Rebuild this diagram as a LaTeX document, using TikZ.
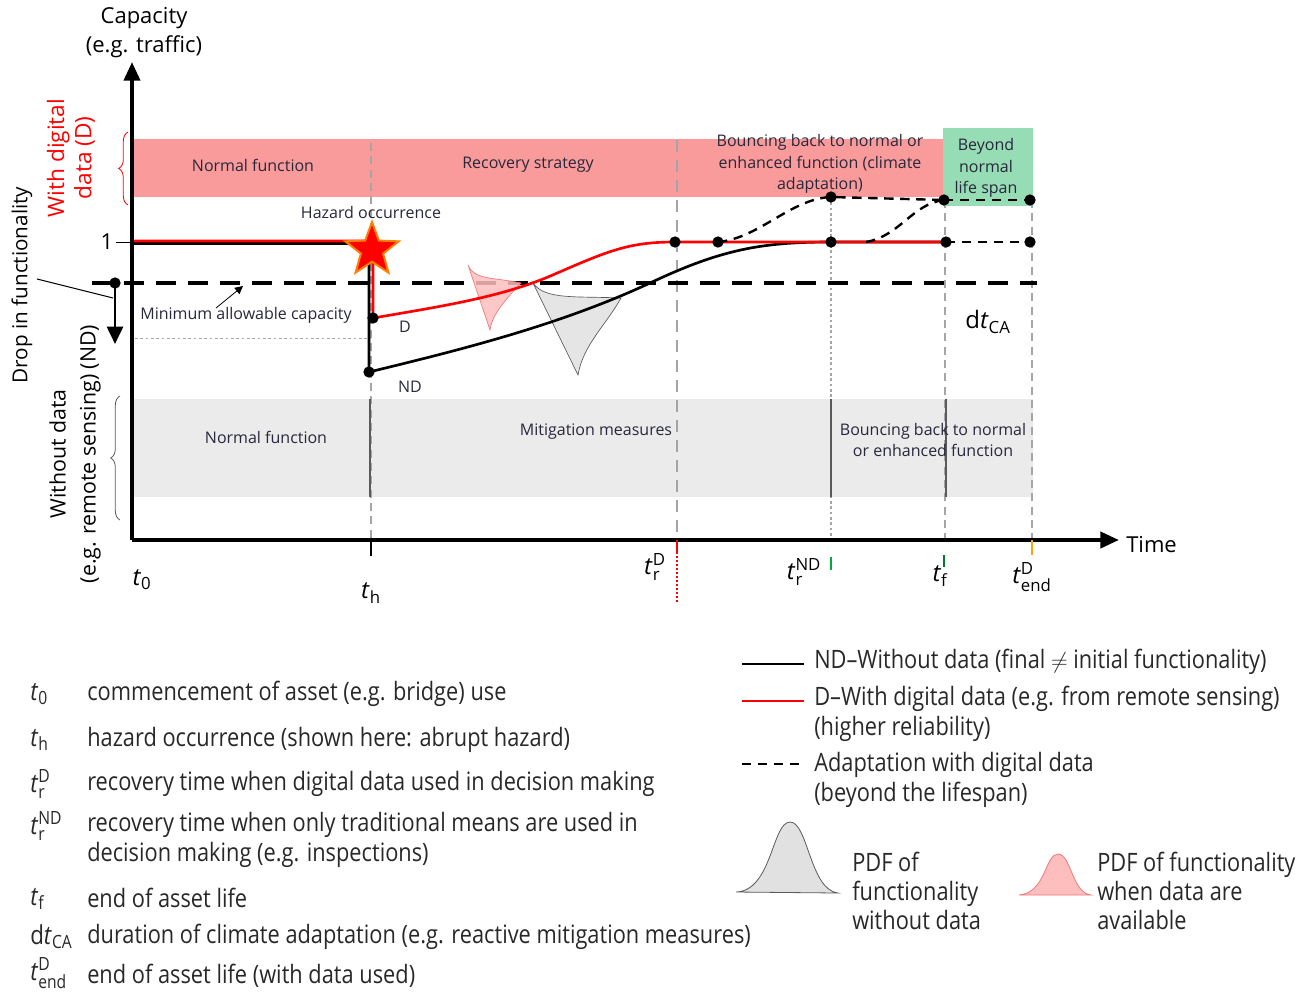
\documentclass[tikz,border=0pt]{standalone}
\usepackage{fontspec}
\usepackage{amsmath}
\setmainfont{Open Sans}
\newfontfamily\condf{Open Sans}[FakeStretch=0.86]
\usetikzlibrary{shapes.geometric,arrows.meta,decorations.pathreplacing,calc}
\definecolor{bandred}{RGB}{250,155,155}
\definecolor{bandgreen}{RGB}{150,220,180}
\definecolor{bandgray}{RGB}{235,235,235}
\definecolor{txt}{RGB}{40,40,60}
\definecolor{legtxt}{RGB}{40,40,40}
\definecolor{pdfred}{RGB}{255,190,190}
\definecolor{pdfredline}{RGB}{240,120,120}
\definecolor{pdfgray}{RGB}{225,225,225}
\definecolor{vgray}{RGB}{165,165,165}
\definecolor{dgray}{RGB}{90,90,90}
\definecolor{tgreen}{RGB}{0,170,60}
\definecolor{torange}{RGB}{255,165,0}
\newcommand\tsym[3]{\textit{t}$^{\text{#3}}_{\text{#2}}$}
\tikzset{
  bandlbl/.style={font=\fontsize{12}{16}\selectfont, text=txt, align=center, inner sep=0pt},
  axlbl/.style={font=\fontsize{16.5}{21.75}\selectfont, text=black, align=center, inner sep=0pt},
  ticklbl/.style={font=\fontsize{18}{20}\selectfont, text=black, inner sep=0pt},
  legsym/.style={font=\condf\fontsize{19.5}{22}\selectfont, text=legtxt, anchor=west, inner sep=0pt},
  legtext/.style={font=\condf\fontsize{19}{22.5}\selectfont, text=legtxt, anchor=west, align=left, inner sep=0pt},
  rlegtext/.style={font=\condf\fontsize{19}{22}\selectfont, text=legtxt, anchor=west, align=left, inner sep=0pt},
  dot/.style={circle, fill=black, inner sep=0pt, minimum size=8.5pt},
  vdash/.style={vgray, line width=1.2pt, dash pattern=on 6pt off 4pt},
  vdot/.style={vgray, line width=0.9pt, dash pattern=on 2pt off 2pt},
  bandsep/.style={dgray, line width=0.9pt},
  ndcurve/.style={black, line width=2pt},
  dcurve/.style={red, line width=2pt},
  adapt/.style={black, line width=1.8pt, dash pattern=on 7pt off 5pt},
  minline/.style={black, line width=3pt, dash pattern=on 15pt off 9pt},
  axis/.style={black, line width=3pt, -{Triangle[length=14pt,width=12pt]}},
}
\begin{document}
\begin{tikzpicture}[x=0.75pt,y=-0.75pt]
\useasboundingbox (0,0) rectangle (1308,993);
% bands
\fill[bandred] (132,139) rectangle (943,197);
\fill[bandgreen] (943,128) rectangle (1033,206);
\fill[bandgray] (132,399) rectangle (1033,497);
% vertical guide lines
\draw[vdash] (371,143) -- (371,540);
\draw[vgray, line width=1.8pt, dash pattern=on 9pt off 6pt] (677,140) -- (677,540);
\draw[vdot] (831,197) -- (831,540);
\draw[vdash] (945,200) -- (945,540);
\draw[vdash] (1032,200) -- (1032,540);
\draw[red, line width=0.8pt, dash pattern=on 1.5pt off 1.5pt] (677,540) -- (677,603);
% band separators
\draw[bandsep] (370,399) -- (370,497);
\draw[bandsep] (831,399) -- (831,497);
\draw[bandsep] (946,399) -- (946,497);
% band labels
\node[bandlbl] (nf1) at (253,165) {Normal function};
\node[bandlbl] (rs) at (528,165) {Recovery strategy};
\node[bandlbl] (bb1) at (820,164) {Bouncing back to normal or\\enhanced function (climate\\adaptation)};
\node[bandlbl] (bey) at (986,168) {Beyond\\normal\\life span};
\node[bandlbl] (nf2) at (266,437) {Normal function};
\node[bandlbl] (mm) at (596,432) {Mitigation measures};
\node[bandlbl] (bb2) at (933,440) {Bouncing back to normal\\or enhanced function};
\node[bandlbl] (hz) at (371,212) {Hazard occurrence};
% min allowable capacity
\draw[minline] (92,283) -- (1037,283);
\draw[vgray, line width=0.6pt, dash pattern=on 2pt off 2pt] (135,338) -- (370,338);
\node[bandlbl, font=\fontsize{12}{14}\selectfont] (mac) at (246,315) {Minimum allowable capacity};
\coordinate (macA) at (216,308);
\coordinate (macB) at (243,286);
\draw[black, line width=0.6pt, -{Triangle[length=6pt,width=6pt]}] (macA) -- (macB);
% PDFs in chart
\filldraw[fill=pdfred, draw=pdfredline, line width=0.5pt, fill opacity=0.85] (468,265) .. controls (474,280) and (492,277) .. (521,283) .. controls (505,300) and (492,315) .. (490,330) -- cycle;
\filldraw[fill=pdfgray, draw=dgray, line width=0.5pt, fill opacity=0.85] (533,283) .. controls (545,300) and (575,296) .. (621,298) .. controls (606,325) and (583,345) .. (578,375) -- cycle;
% curves
\coordinate (ND0) at (369,372);
\coordinate (D0) at (373,318);
\coordinate (Dr) at (675,242);
\coordinate (A1) at (718,242);
\coordinate (NDr) at (831,242);
\coordinate (F1) at (946,242);
\coordinate (E1) at (1030,242);
\coordinate (U1) at (831,197);
\coordinate (U2) at (944,200);
\coordinate (U3) at (1030,200);
\coordinate (S2) at (866,242);
\draw[ndcurve] (132,243.5) -- (369,243.5) -- (ND0) .. controls (460,350) and (560,325) .. (650,283) .. controls (720,250) and (760,242) .. (NDr) -- (F1);
\draw[dcurve] (132,241) -- (373,241) -- (D0) .. controls (450,305) and (505,296) .. (555,274) .. controls (610,250) and (630,242) .. (Dr) -- (F1);
\draw[adapt] (A1) .. controls (760,238) and (790,199) .. (U1) -- (U2);
\draw[adapt] (S2) .. controls (900,236) and (912,204) .. (U2);
\draw[adapt] (U2) -- (U3);
\draw[adapt] (F1) -- (E1);
\foreach \p in {ND0,D0,Dr,A1,NDr,F1,E1,U1,U2,U3} \node[dot] at (\p) {};
\node[bandlbl, font=\fontsize{12}{14}\selectfont] (lD) at (405,327) {D};
\node[bandlbl, font=\fontsize{12}{14}\selectfont] (lND) at (410,387) {ND};
\node[ticklbl] (dtca) at (988,322) {d\textit{t}$_{\text{CA}}$};
% star
\node[star, star points=5, star point ratio=2.4, fill=red, draw=orange, line width=1.5pt, minimum size=42pt, inner sep=0pt] (star) at (372,250) {};
% axes
\draw[axis] (132,540) -- (132,62);
\draw[axis] (132,540) -- (1119,540);
\node[axlbl] (cap) at (144,32.5) {Capacity\\(e.g. traffic)};
\node[axlbl, anchor=west] (time) at (1126,545) {Time};
\draw[black, line width=0.7pt] (116,242) -- (132,242);
\node[axlbl] (one) at (107,242) {1};
% drop in functionality
\coordinate (dropA) at (115,283);
\coordinate (dropB) at (115,344);
\draw[black, line width=2pt, -{Triangle[length=13pt,width=12pt]}] (dropA) -- (dropB);
\node[dot] at (dropA) {};
\coordinate (dropL) at (37,279);
\draw[black, line width=0.8pt] (dropL) -- (113,298);
\node[axlbl, rotate=90, font=\fontsize{15.5}{18}\selectfont] (drop) at (22,285) {Drop in functionality};
% side labels and braces
\node[axlbl, rotate=90, text=red, font=\fontsize{17}{20.5}\selectfont] (wd) at (71,158) {With digital\\data (D)};
\draw[red, line width=0.6pt, decorate, decoration={brace, amplitude=7pt}] (128,205) -- (128,132);
\node[axlbl, rotate=90, font=\fontsize{16}{22.5}\selectfont] (wo) at (75,454) {Without data\\(e.g. remote sensing) (ND)};
\draw[dgray, line width=0.6pt, decorate, decoration={brace, amplitude=7pt}] (120,520) -- (120,396);
% ticks
\draw[black, line width=1.2pt] (371,540) -- (371,556);
\draw[red, line width=1.2pt] (677,540) -- (677,552);
\draw[tgreen, line width=1.5pt] (831,557) -- (831,570);
\draw[tgreen!70!black, line width=1.5pt] (944,555) -- (944,567);
\draw[torange, line width=1.5pt] (1032,540) -- (1032,555);
\node[ticklbl] (t0) at (142,580) {\textit{t}$_{\text{0}}$};
\node[ticklbl] (th) at (371,593) {\textit{t}$_{\text{h}}$};
\node[ticklbl] (trD) at (655,567) {\tsym{t}{r}{D}};
\node[ticklbl] (trND) at (804,572) {\tsym{t}{r}{ND}};
\node[ticklbl] (tf) at (940,576) {\textit{t}$_{\text{f}}$};
\node[ticklbl] (tend) at (1032,577) {\tsym{t}{end}{D}};
% left legend
\node[legsym] (s1) at (30,694) {\textit{t}$_{\text{0}}$};
\node[legsym] (s2) at (30,740) {\textit{t}$_{\text{h}}$};
\node[legsym] (s3) at (30,784) {\tsym{t}{r}{D}};
\node[legsym] (s4) at (30,826) {\tsym{t}{r}{ND}};
\node[legsym] (s5) at (30,899) {\textit{t}$_{\text{f}}$};
\node[legsym] (s6) at (30,937) {d\textit{t}$_{\text{CA}}$};
\node[legsym] (s7) at (30,973) {\tsym{t}{end}{D}};
\node[legtext] (l1) at (87,694) {commencement of asset (e.g. bridge) use};
\node[legtext] (l2) at (87,740) {hazard occurrence (shown here: abrupt hazard)};
\node[legtext] (l3) at (87,784) {recovery time when digital data used in decision making};
\node[legtext] (l4) at (87,840) {recovery time when only traditional means are used in\\decision making (e.g. inspections)};
\node[legtext] (l5) at (87,898) {end of asset life};
\node[legtext] (l6) at (87,937) {duration of climate adaptation (e.g. reactive mitigation measures)};
\node[legtext] (l7) at (87,976) {end of asset life (with data used)};
% right legend
\coordinate (k1a) at (742,664); \coordinate (k1b) at (804,664);
\coordinate (k2a) at (742,701); \coordinate (k2b) at (804,701);
\coordinate (k3a) at (742,764); \coordinate (k3b) at (804,764);
\draw[black, line width=2pt] (k1a) -- (k1b);
\draw[red, line width=2pt] (k2a) -- (k2b);
\draw[black, line width=1.6pt, dash pattern=on 7pt off 5pt] (k3a) -- (k3b);
\node[rlegtext] (r1) at (814,662) {ND–Without data (final $\neq$ initial functionality)};
\node[rlegtext] (r2) at (814,714) {D–With digital data (e.g. from remote sensing)\\(higher reliability)};
\node[rlegtext] (r3) at (814,780) {Adaptation with digital data\\(beyond the lifespan)};
\filldraw[fill=pdfgray, draw=dgray, line width=0.6pt] (736,892) .. controls (772,891) and (772,822) .. (790,822) .. controls (808,822) and (810,890) .. (838,893) -- cycle;
\filldraw[fill=pdfred, draw=pdfredline, line width=0.6pt] (1019,895) .. controls (1046,893) and (1045,854) .. (1058,854) .. controls (1071,854) and (1072,893) .. (1091,895) -- cycle;
\node[rlegtext] (p1) at (852,891) {PDF of\\functionality\\without data};
\node[rlegtext] (p2) at (1097,891) {PDF of functionality\\when data are\\available};
\end{tikzpicture}
\end{document}
